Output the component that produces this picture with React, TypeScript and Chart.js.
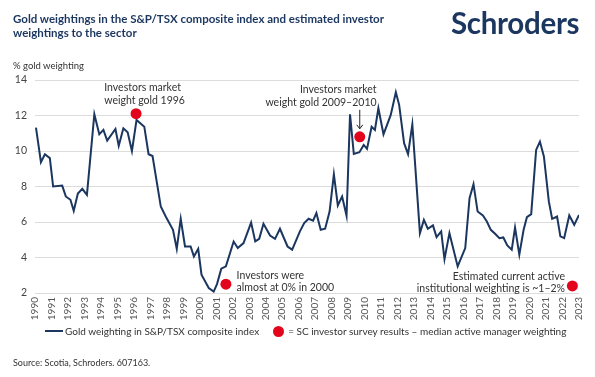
import React, { useEffect, useRef } from "react";
import { Chart, registerables } from "chart.js";

Chart.register(...registerables);

// Gold weighting in S&P/TSX composite index (decimal year, % weight)
const goldYears = [
  1990.06, 1990.36, 1990.6, 1990.9, 1991.1, 1991.65, 1991.87, 1992.15, 1992.35, 1992.6,
  1992.87, 1993.15, 1993.6, 1993.9, 1994.15, 1994.38, 1994.88, 1995.08, 1995.36, 1995.62,
  1995.88, 1996.16, 1996.63, 1996.89, 1997.13, 1997.63, 1997.93, 1998.37, 1998.6, 1998.84,
  1999.1, 1999.44, 1999.64, 1999.9, 2000.1, 2000.54, 2000.84, 2001.04, 2001.3, 2001.58,
  2002.05, 2002.3, 2002.65, 2003.11, 2003.36, 2003.6, 2003.86, 2004.26, 2004.56, 2004.86,
  2005.32, 2005.6, 2006.07, 2006.33, 2006.6, 2006.87, 2007.07, 2007.33, 2007.6, 2007.87,
  2008.13, 2008.37, 2008.63, 2008.9, 2009.11, 2009.34, 2009.68, 2009.94, 2010.14, 2010.42,
  2010.62, 2010.83, 2011.14, 2011.43, 2011.58, 2011.89, 2012.09, 2012.39, 2012.63, 2012.89,
  2013.35, 2013.59, 2013.83, 2014.14, 2014.36, 2014.64, 2014.84, 2015.14, 2015.64, 2016.1,
  2016.36, 2016.6, 2016.85, 2017.17, 2017.41, 2017.65, 2017.91, 2018.17, 2018.41, 2018.65,
  2018.92, 2019.12, 2019.38, 2019.64, 2019.84, 2020.1, 2020.4, 2020.63, 2020.87, 2021.17,
  2021.37, 2021.67, 2021.87, 2022.1, 2022.41, 2022.71, 2023.0,
];
const goldWeights = [
  11.32, 9.37, 9.82, 9.6, 8.0, 8.05, 7.44, 7.25, 6.63, 7.6,
  7.87, 7.53, 12.07, 10.94, 11.19, 10.59, 11.24, 10.29, 11.28, 11.06,
  10.0, 11.75, 11.37, 9.82, 9.72, 6.87, 6.31, 5.56, 4.49, 6.18,
  4.62, 4.62, 4.06, 4.49, 3.03, 2.28, 2.08, 2.5, 3.37, 3.5,
  4.9, 4.53, 4.81, 5.97, 4.91, 5.05, 5.9, 5.24, 5.05, 5.62,
  4.62, 4.44, 5.47, 5.94, 6.18, 6.07, 6.5, 5.56, 5.62, 6.59,
  8.69, 6.93, 7.44, 6.35, 12.07, 9.84, 9.93, 10.34, 10.12, 11.37,
  11.19, 12.41, 10.94, 11.66, 12.03, 13.31, 12.6, 10.44, 9.82, 11.5,
  5.37, 6.12, 5.62, 5.81, 5.15, 5.47, 3.91, 5.37, 3.5, 4.53,
  7.34, 8.13, 6.59, 6.37, 6.03, 5.56, 5.34, 5.09, 5.13, 4.68,
  4.44, 5.69, 4.16, 5.56, 6.27, 6.44, 10.06, 10.53, 9.69, 7.16,
  6.18, 6.31, 5.19, 5.09, 6.37, 5.84, 6.4,
];

// SC investor survey results – median active manager weighting
const surveyYears = [1996.13, 2009.7, 2001.58, 2022.6];
const surveyWeights = [12.1, 10.8, 2.5, 2.4];

const yTicks = [2, 4, 6, 8, 10, 12, 14];
const xStart = 1990;
const xEnd = 2023;

const annotations = [
  { lines: ["Investors market", "weight gold 1996"], x: 1994.2, y: 13.55, align: "left" },
  { lines: ["Investors market", "weight gold 2009\u20132010"], x: 2010.72, y: 13.45, align: "right" },
  { lines: ["Investors were", "almost at 0% in 2000"], x: 2002.23, y: 3.0, align: "left" },
  { lines: ["Estimated current active", "institutional weighting is ~1\u20132%"], x: 2022.15, y: 2.95, align: "right" },
];

const NAVY = "#1b365f";
const RED = "#e3051b";
const FONT = "Lato, 'Open Sans', sans-serif";

const annotationPlugin = {
  id: "annos",
  afterDatasetsDraw(chart: any) {
    const { ctx, scales } = chart;
    const xs = scales.x;
    const ys = scales.y;
    ctx.save();
    ctx.fillStyle = "#333";
    ctx.font = "10.5px " + FONT;
    ctx.textBaseline = "middle";
    annotations.forEach((a) => {
      const px = xs.getPixelForValue(a.x);
      const py = ys.getPixelForValue(a.y);
      ctx.textAlign = a.align;
      a.lines.forEach((l, i) => ctx.fillText(l, px, py + i * 12.5));
    });
    // arrow for 2009-2010
    const ax = xs.getPixelForValue(surveyYears[1]);
    const y0 = ys.getPixelForValue(surveyWeights[1]) - 27;
    const y1 = ys.getPixelForValue(surveyWeights[1]) - 8;
    ctx.strokeStyle = "#222";
    ctx.lineWidth = 1;
    ctx.beginPath();
    ctx.moveTo(ax, y0);
    ctx.lineTo(ax, y1);
    ctx.moveTo(ax - 3, y1 - 4);
    ctx.lineTo(ax, y1);
    ctx.lineTo(ax + 3, y1 - 4);
    ctx.stroke();
    ctx.restore();
  },
};

export default function App() {
  const ref = useRef<HTMLCanvasElement>(null);
  useEffect(() => {
    if (!ref.current) return;
    const chart = new Chart(ref.current, {
      type: "line",
      data: {
        datasets: [
          {
            label: "Gold weighting in S&P/TSX composite index",
            data: goldYears.map((x, i) => ({ x, y: goldWeights[i] })),
            borderColor: NAVY,
            borderWidth: 2,
            pointRadius: 0,
            tension: 0,
            order: 2,
          },
          {
            label: "= SC investor survey results \u2013 median active manager weighting",
            data: surveyYears.map((x, i) => ({ x, y: surveyWeights[i] })),
            showLine: false,
            pointRadius: 5.5,
            pointBackgroundColor: RED,
            pointBorderWidth: 0,
            borderColor: RED,
            order: 1,
          },
        ],
      },
      options: {
        animation: false,
        responsive: false,
        devicePixelRatio: 1,
        layout: { padding: { top: 80, right: 12, left: 0, bottom: 0 } },
        plugins: { legend: { display: false }, tooltip: { enabled: false } },
        scales: {
          x: {
            type: "linear",
            min: xStart,
            max: xEnd,
            afterFit: (s: any) => { s.height = 84; },
            afterBuildTicks: (s: any) => {
              const t = [];
              for (let v = xStart; v <= xEnd; v++) t.push({ value: v });
              s.ticks = t;
            },
            grid: { display: false, drawTicks: false },
            border: { display: false },
            ticks: {
              autoSkip: false,
              minRotation: 90,
              maxRotation: 90,
              padding: 4,
              color: "#555",
              font: { family: FONT, size: 10 },
              callback: (v: any) => String(v),
            },
          },
          y: {
            min: 2,
            max: 14,
            afterFit: (s: any) => { s.width = 35; },
            afterBuildTicks: (s: any) => { s.ticks = yTicks.map((v) => ({ value: v })); },
            grid: { color: "#dcdcdc", lineWidth: 1, drawTicks: false },
            border: { display: false },
            ticks: {
              padding: 8,
              color: "#444",
              font: { family: FONT, size: 10.5 },
            },
          },
        },
      },
      plugins: [annotationPlugin],
    } as any);
    return () => chart.destroy();
  }, []);

  return (
    <div style={{ position: "absolute", left: 0, top: 0, width: 595, height: 377, background: "#fff", fontFamily: FONT, overflow: "hidden" }}>
      <canvas ref={ref} width={595} height={377} style={{ position: "absolute", left: 0, top: 0, width: 595, height: 377 }} />
      <div style={{ position: "absolute", left: 13, top: 12, fontSize: 11.5, fontWeight: 700, lineHeight: "14px", color: NAVY }}>
        Gold weightings in the S&amp;P/TSX composite index and estimated investor
        <br />
        weightings to the sector
      </div>
      <div style={{ position: "absolute", left: 451, top: 5, fontSize: 29.5, fontWeight: 700, color: NAVY, letterSpacing: "-0.3px" }}>Schroders</div>
      <div style={{ position: "absolute", left: 13, top: 60, fontSize: 9.5, color: "#333" }}>% gold weighting</div>
      <div style={{ position: "absolute", left: 45, top: 325, fontSize: 10, color: "#333", display: "flex", alignItems: "center", whiteSpace: "nowrap" }}>
        <span style={{ display: "inline-block", width: 18, height: 2, background: NAVY, marginRight: 2 }} />
        <span>Gold weighting in S&amp;P/TSX composite index</span>
        <span style={{ display: "inline-block", width: 11, height: 11, borderRadius: "50%", background: RED, marginLeft: 14, marginRight: 4 }} />
        <span>= SC investor survey results &ndash; median active manager weighting</span>
      </div>
      <div style={{ position: "absolute", left: 13, top: 357, fontSize: 9, color: "#333" }}>Source: Scotia, Schroders. 607163.</div>
    </div>
  );
}
